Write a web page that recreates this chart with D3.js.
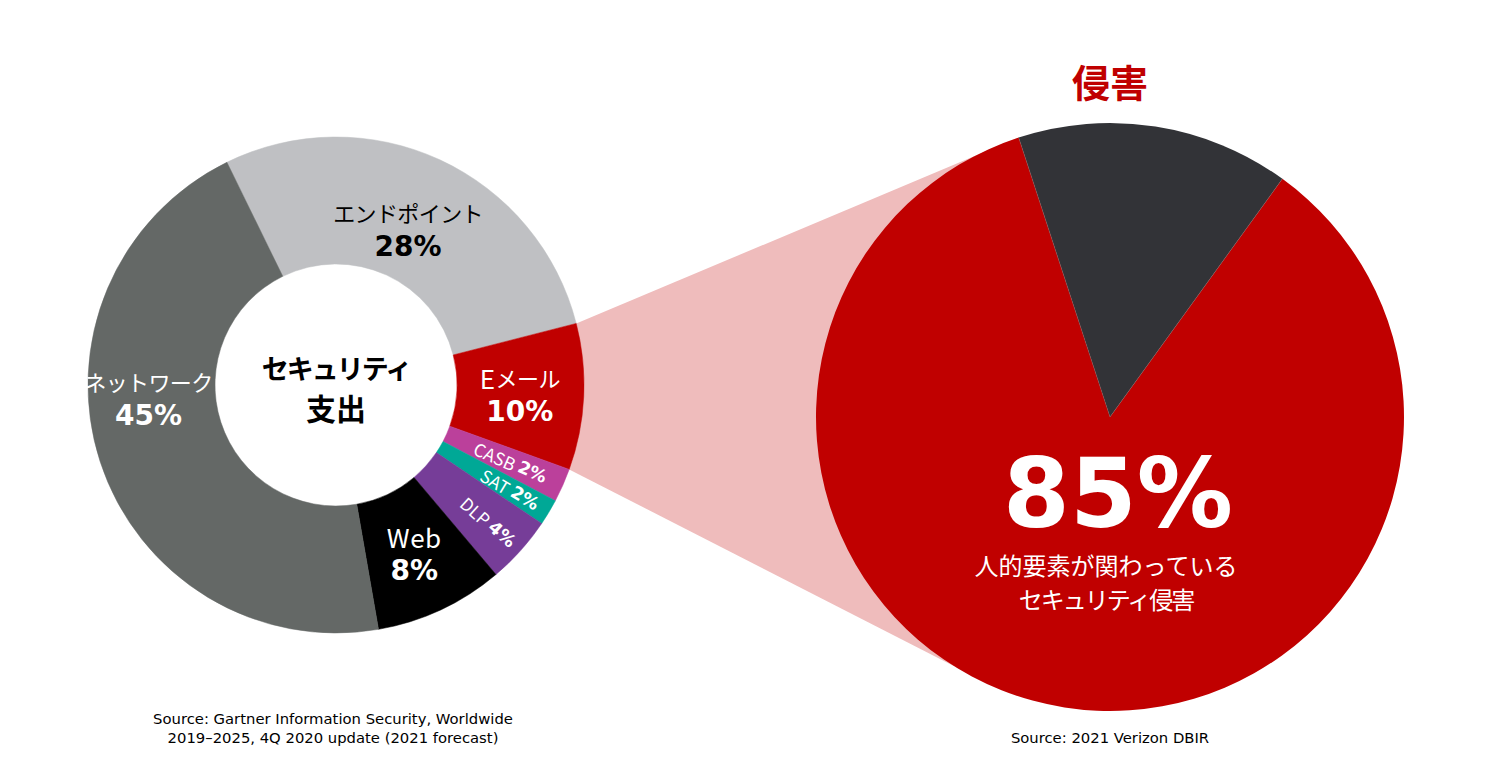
<!DOCTYPE html>
<html>
<head>
<meta charset="utf-8">
<script src="https://cdn.jsdelivr.net/npm/d3@7/dist/d3.min.js"></script>
<style>
  html, body { margin: 0; padding: 0; background: #ffffff; }
  svg { display: block; }
</style>
</head>
<body>
<svg id="chart" width="1493" height="779"></svg>
<script>
// ---------- DATA ----------
const spendCategories = ["エンドポイント", "Eメール", "CASB", "SAT", "DLP", "Web", "ネットワーク"];
const spendValues     = [28.2, 9.5, 2.2, 1.7, 4.4, 8.4, 45.4];
const spendTitle      = ["セキュリティ", "支出"];

const breachCategories = ["その他", "人的要素が関わっているセキュリティ侵害"];
const breachValues     = [15, 85];
const breachTitle      = "侵害";
const breachHeadline   = "85%";
const breachCaption    = ["人的要素が関わっている", "セキュリティ侵害"];

const sourceLeft  = ["Source: Gartner Information Security, Worldwide", "2019–2025, 4Q 2020 update (2021 forecast)"];
const sourceRight = ["Source: 2021 Verizon DBIR"];

// ---------- STYLE / LAYOUT ----------
const spendColors = {
  "エンドポイント": "#BFC0C3", "Eメール": "#C00000", "CASB": "#BB409B",
  "SAT": "#00A896", "DLP": "#763D98", "Web": "#000000", "ネットワーク": "#646866"
};
const breachColors = { "その他": "#323337", "人的要素が関わっているセキュリティ侵害": "#C00000" };
const labelColor = { "エンドポイント": "#000000" };
const bigLabelLayout = {
  "エンドポイント": { r: 172 }, "Eメール": { r: 184 }, "Web": { r: 185 },
  "ネットワーク": { r: 188, angleDeg: 266 }
};
const smallLabelRadius = { "CASB": 191, "SAT": 203, "DLP": 205 };

const deg = Math.PI / 180;
const jp = "'Noto Sans CJK JP', 'Noto Sans', sans-serif";
const lat = "'DejaVu Sans', Verdana, sans-serif";

const svg = d3.select("#chart");

const donut = { cx: 336, cy: 385, r0: 121, r1: 248, start: -26.1 * deg };
const pieR = { cx: 1110, cy: 417, r: 294, start: -18.1 * deg };

// pies
const spendPie = d3.pie().sort(null).value(d => d.v)
  .startAngle(donut.start).endAngle(donut.start + 2 * Math.PI);
const spendArcs = spendPie(spendCategories.map((c, i) => ({ c, v: spendValues[i] })));

const breachPie = d3.pie().sort(null).value(d => d.v)
  .startAngle(pieR.start).endAngle(pieR.start + 2 * Math.PI);
const breachArcs = breachPie(breachCategories.map((c, i) => ({ c, v: breachValues[i] })));

const polar = (cx, cy, r, a) => [cx + r * Math.sin(a), cy - r * Math.cos(a)];

// ---------- connector (zoom band) ----------
const email = spendArcs.find(d => d.data.c === "Eメール");
const other = breachArcs.find(d => d.data.c === "その他");
const pA = polar(donut.cx, donut.cy, donut.r1, email.startAngle);
const pB = polar(donut.cx, donut.cy, donut.r1, email.endAngle);
const pC = polar(pieR.cx, pieR.cy, pieR.r, other.startAngle);
const pD = polar(pieR.cx, pieR.cy, pieR.r, 212 * deg);
svg.append("path")
  .attr("d", d3.line()([pA, pC, [pieR.cx, pieR.cy], pD, pB]) + "Z")
  .attr("fill", "#EFBCBC");

// ---------- donut ----------
const gD = svg.append("g").attr("transform", `translate(${donut.cx},${donut.cy})`);
const arcD = d3.arc().innerRadius(donut.r0).outerRadius(donut.r1);
gD.selectAll("path.slice").data(spendArcs).join("path")
  .attr("class", "slice")
  .attr("d", arcD)
  .attr("fill", d => spendColors[d.data.c])
  .attr("stroke", d => spendColors[d.data.c])
  .attr("stroke-width", 0.5);

// big labels (Latin runs drawn a bit larger, like the reference's font mix)
spendArcs.filter(d => bigLabelLayout[d.data.c]).forEach(d => {
  const L = bigLabelLayout[d.data.c];
  const a = L.angleDeg !== undefined ? L.angleDeg * deg : (d.startAngle + d.endAngle) / 2;
  const [x, y] = polar(0, 0, L.r, a);
  const col = labelColor[d.data.c] || "#ffffff";
  const t = gD.append("text")
    .attr("x", x).attr("y", y - 17)
    .attr("text-anchor", "middle").attr("dominant-baseline", "central")
    .attr("font-family", jp).attr("fill", col);
  const runs = d.data.c.match(/[A-Za-z]+|[^A-Za-z]+/g);
  runs.forEach(run => {
    const isLatin = /^[A-Za-z]+$/.test(run);
    t.append("tspan")
      .attr("font-size", isLatin ? 26 : 22)
      .attr("letter-spacing", isLatin ? 0.5 : -0.6)
      .text(run);
  });
  gD.append("text")
    .attr("x", x).attr("y", y + 27)
    .attr("text-anchor", "middle")
    .attr("font-family", lat).attr("font-weight", "bold").attr("font-size", 28).attr("fill", col)
    .text(Math.round(d.value) + "%");
});

// small rotated labels
spendArcs.filter(d => smallLabelRadius[d.data.c]).forEach(d => {
  const a = (d.startAngle + d.endAngle) / 2;
  const [x, y] = polar(0, 0, smallLabelRadius[d.data.c], a);
  const t = gD.append("text")
    .attr("transform", `translate(${x},${y}) rotate(${a / deg - 90})`)
    .attr("text-anchor", "middle").attr("dominant-baseline", "central")
    .attr("fill", "#ffffff");
  t.append("tspan").attr("font-family", jp).attr("font-size", 17.5).text(d.data.c + " ");
  t.append("tspan").attr("font-family", lat).attr("font-weight", "bold").attr("font-size", 17.5)
    .text(Math.round(d.value) + "%");
});

// center title
spendTitle.forEach((s, i) => {
  gD.append("text")
    .attr("x", 0).attr("y", -18 + i * 40)
    .attr("text-anchor", "middle").attr("dominant-baseline", "central")
    .attr("font-family", jp).attr("font-weight", "bold")
    .attr("font-size", i === 0 ? 27 : 30).attr("letter-spacing", i === 0 ? -2 : 0)
    .attr("fill", "#000")
    .text(s);
});

// ---------- right pie ----------
const gP = svg.append("g").attr("transform", `translate(${pieR.cx},${pieR.cy})`);
const arcP = d3.arc().innerRadius(0).outerRadius(pieR.r);
gP.selectAll("path.slice").data(breachArcs).join("path")
  .attr("class", "slice")
  .attr("d", arcP)
  .attr("fill", d => breachColors[d.data.c]);
breachArcs.forEach(d => {
  const p = polar(0, 0, pieR.r, d.startAngle);
  gP.append("line").attr("x1", 0).attr("y1", 0).attr("x2", p[0]).attr("y2", p[1])
    .attr("stroke", "#6b6b6b").attr("stroke-width", 0.7).attr("stroke-opacity", 0.6);
});

svg.append("text")
  .attr("x", pieR.cx).attr("y", 80)
  .attr("text-anchor", "middle").attr("dominant-baseline", "central")
  .attr("font-family", jp).attr("font-weight", "bold").attr("font-size", 38).attr("fill", "#C00000")
  .text(breachTitle);

gP.append("text")
  .attr("x", 8).attr("y", 110)
  .attr("text-anchor", "middle")
  .attr("font-family", lat).attr("font-weight", "bold").attr("font-size", 96).attr("fill", "#ffffff")
  .text(breachHeadline);
breachCaption.forEach((s, i) => {
  gP.append("text")
    .attr("x", -4).attr("y", 147 + i * 34)
    .attr("text-anchor", "middle").attr("dominant-baseline", "central")
    .attr("font-family", jp).attr("font-size", 24).attr("letter-spacing", i === 1 ? -2 : 0)
    .attr("fill", "#ffffff")
    .text(s);
});

// ---------- sources ----------
sourceLeft.forEach((s, i) => {
  svg.append("text").attr("x", 333).attr("y", 724 + i * 19)
    .attr("text-anchor", "middle").attr("font-family", lat).attr("font-size", 14.8).attr("fill", "#000")
    .text(s);
});
sourceRight.forEach((s, i) => {
  svg.append("text").attr("x", 1110).attr("y", 743 + i * 19)
    .attr("text-anchor", "middle").attr("font-family", lat).attr("font-size", 14.8).attr("fill", "#000")
    .text(s);
});
</script>
</body>
</html>
